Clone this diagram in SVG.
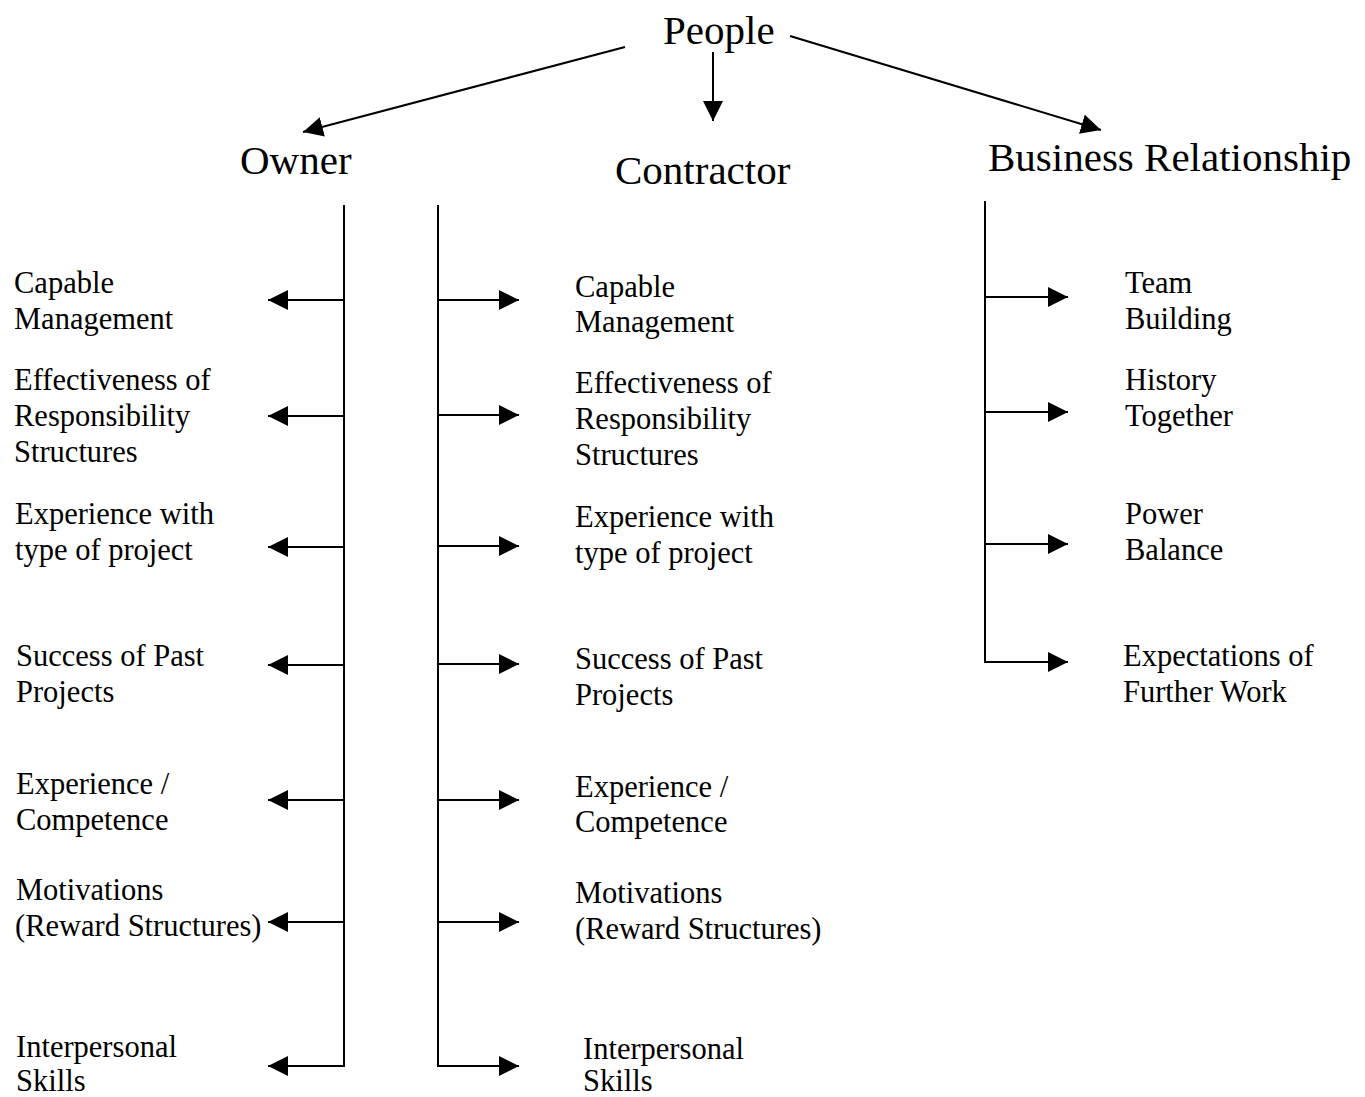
<svg xmlns="http://www.w3.org/2000/svg" width="1365" height="1097" viewBox="0 0 1365 1097">
<style>
text{font-family:"Liberation Serif","Times New Roman",serif;fill:#000}
.h{font-size:41px}
.t{font-size:30.5px}
.c line,.c path{stroke:#000;stroke-width:2;fill:none}
</style>
<defs>
<marker id="ah" markerUnits="userSpaceOnUse" markerWidth="20" markerHeight="20" refX="20" refY="10" orient="auto" viewBox="0 0 20 20">
<path d="M0,0 L20,10 L0,20 z" fill="#000"/>
</marker>
</defs>
<rect width="1365" height="1097" fill="#fff"/>
<g id="people"><text class="h" x="663" y="44">People</text></g>
<g id="owner"><text class="h" x="240" y="174">Owner</text></g>
<g id="contractor"><text class="h" x="615" y="184">Contractor</text></g>
<g id="business"><text class="h" x="988" y="171">Business Relationship</text></g>

<g id="o1"><text class="t" x="14" y="293">Capable</text><text class="t" x="14" y="329">Management</text></g>
<g id="o2"><text class="t" x="14" y="390">Effectiveness of</text><text class="t" x="14" y="426">Responsibility</text><text class="t" x="14" y="462">Structures</text></g>
<g id="o3"><text class="t" x="15" y="524">Experience with</text><text class="t" x="15" y="560">type of project</text></g>
<g id="o4"><text class="t" x="16" y="666">Success of Past</text><text class="t" x="16" y="702">Projects</text></g>
<g id="o5"><text class="t" x="16" y="794">Experience /</text><text class="t" x="16" y="830">Competence</text></g>
<g id="o6"><text class="t" x="16" y="900">Motivations</text><text class="t" x="15" y="936">(Reward Structures)</text></g>
<g id="o7"><text class="t" x="16" y="1057">Interpersonal</text><text class="t" x="16" y="1091">Skills</text></g>

<g id="c1"><text class="t" x="575" y="297">Capable</text><text class="t" x="575" y="332">Management</text></g>
<g id="c2"><text class="t" x="575" y="393">Effectiveness of</text><text class="t" x="575" y="429">Responsibility</text><text class="t" x="575" y="465">Structures</text></g>
<g id="c3"><text class="t" x="575" y="527">Experience with</text><text class="t" x="575" y="563">type of project</text></g>
<g id="c4"><text class="t" x="575" y="669">Success of Past</text><text class="t" x="575" y="705">Projects</text></g>
<g id="c5"><text class="t" x="575" y="797">Experience /</text><text class="t" x="575" y="832">Competence</text></g>
<g id="c6"><text class="t" x="575" y="903">Motivations</text><text class="t" x="575" y="939">(Reward Structures)</text></g>
<g id="c7"><text class="t" x="583" y="1059">Interpersonal</text><text class="t" x="583" y="1091">Skills</text></g>

<g id="b1"><text class="t" x="1125" y="293">Team</text><text class="t" x="1125" y="329">Building</text></g>
<g id="b2"><text class="t" x="1125" y="390">History</text><text class="t" x="1125" y="426">Together</text></g>
<g id="b3"><text class="t" x="1125" y="524">Power</text><text class="t" x="1125" y="560">Balance</text></g>
<g id="b4"><text class="t" x="1123" y="666">Expectations of</text><text class="t" x="1123" y="702">Further Work</text></g>

<g id="connectors" class="c">
<line x1="625" y1="47" x2="303" y2="132" marker-end="url(#ah)"/>
<line x1="713" y1="52" x2="713" y2="121" marker-end="url(#ah)"/>
<line x1="790" y1="36" x2="1101" y2="130" marker-end="url(#ah)"/>

<path d="M344,205 V1066"/>
<line x1="344" y1="300" x2="268" y2="300" marker-end="url(#ah)"/>
<line x1="344" y1="416" x2="268" y2="416" marker-end="url(#ah)"/>
<line x1="344" y1="547" x2="268" y2="547" marker-end="url(#ah)"/>
<line x1="344" y1="665" x2="268" y2="665" marker-end="url(#ah)"/>
<line x1="344" y1="800" x2="268" y2="800" marker-end="url(#ah)"/>
<line x1="344" y1="922" x2="268" y2="922" marker-end="url(#ah)"/>
<line x1="345" y1="1066" x2="268" y2="1066" marker-end="url(#ah)"/>

<path d="M438,205 V1066"/>
<line x1="438" y1="300" x2="519" y2="300" marker-end="url(#ah)"/>
<line x1="438" y1="415" x2="519" y2="415" marker-end="url(#ah)"/>
<line x1="438" y1="546" x2="519" y2="546" marker-end="url(#ah)"/>
<line x1="438" y1="664" x2="519" y2="664" marker-end="url(#ah)"/>
<line x1="438" y1="800" x2="519" y2="800" marker-end="url(#ah)"/>
<line x1="438" y1="922" x2="519" y2="922" marker-end="url(#ah)"/>
<line x1="437" y1="1066" x2="519" y2="1066" marker-end="url(#ah)"/>

<path d="M985,201 V662"/>
<line x1="985" y1="297" x2="1068" y2="297" marker-end="url(#ah)"/>
<line x1="985" y1="412" x2="1068" y2="412" marker-end="url(#ah)"/>
<line x1="985" y1="544" x2="1068" y2="544" marker-end="url(#ah)"/>
<line x1="984" y1="662" x2="1068" y2="662" marker-end="url(#ah)"/>
</g>
</svg>
